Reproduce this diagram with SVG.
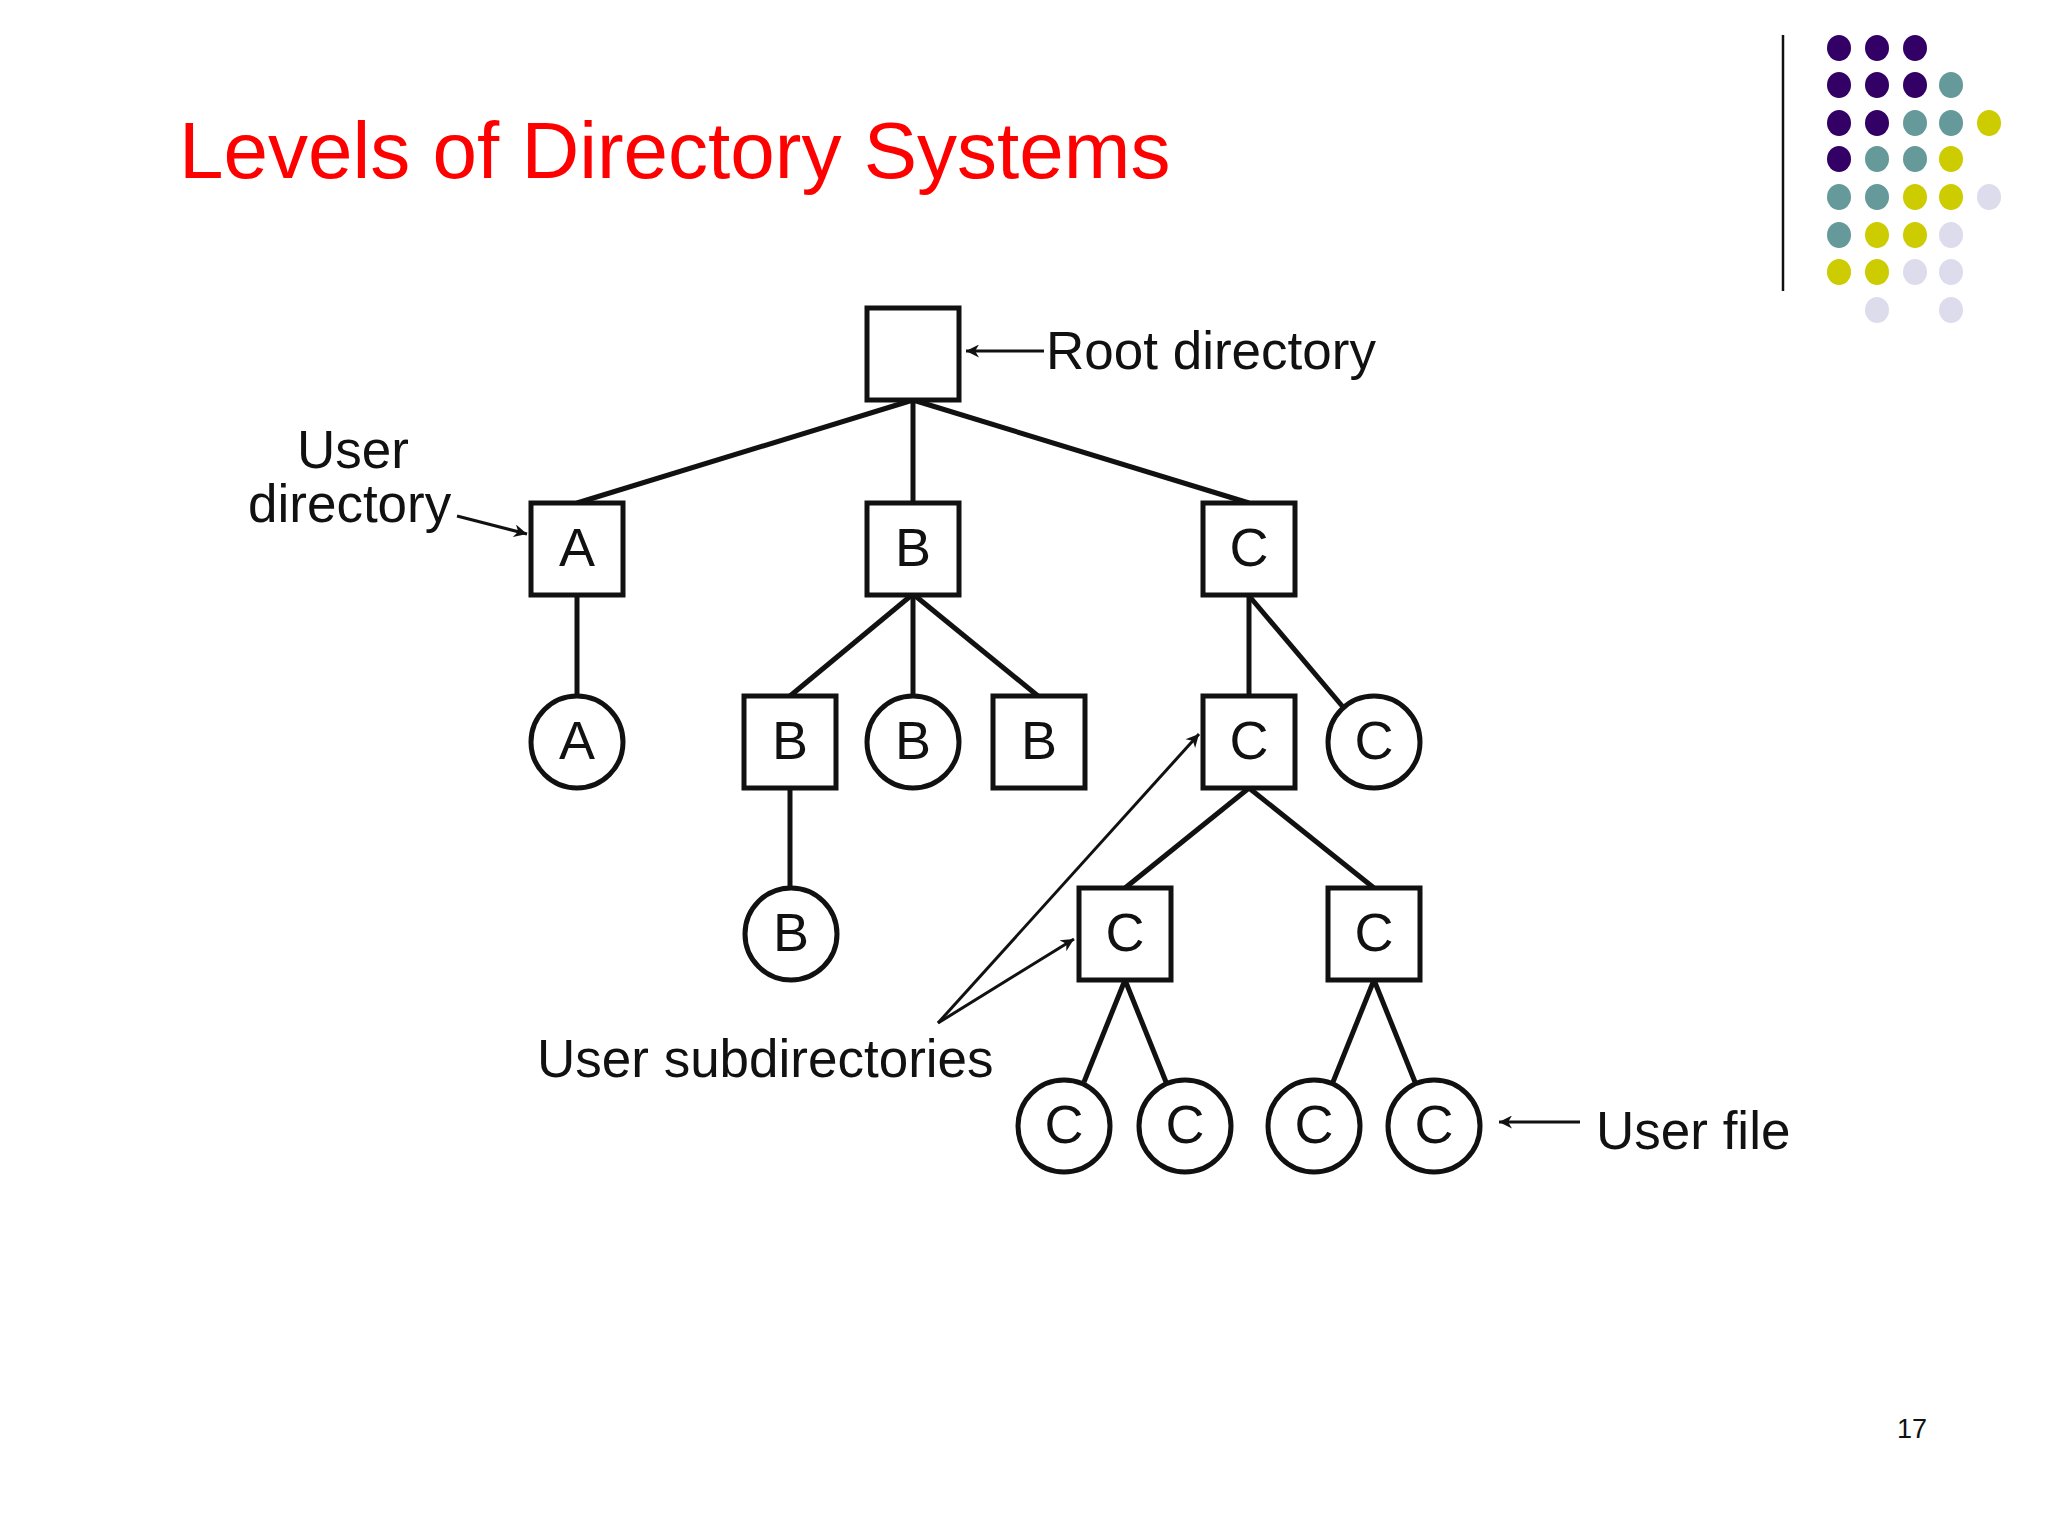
<svg xmlns="http://www.w3.org/2000/svg" width="2048" height="1536" viewBox="0 0 2048 1536">
<defs>
<style>
.n{fill:#fff;stroke:#111;stroke-width:5}
.t{font-family:"Liberation Sans",Arial,sans-serif;font-size:54px;fill:#111;text-anchor:middle}
.l{font-family:"Liberation Sans",Arial,sans-serif;font-size:53px;fill:#111}
.e{stroke:#111;stroke-width:5;fill:none}
.a{stroke:#111;stroke-width:3;fill:none;marker-end:url(#ah)}
.P{fill:#330066}.T{fill:#669999}.Y{fill:#cccc00}.L{fill:#dcdcec}
</style>
<marker id="ah" viewBox="0 0 10 10" refX="10" refY="5" markerWidth="24" markerHeight="13" markerUnits="userSpaceOnUse" orient="auto"><path d="M0,0 L10,5 L0,10 L3,5 Z" fill="#111"/></marker>
</defs>
<rect width="2048" height="1536" fill="#fff"/>
<text x="179" y="178" font-family="Liberation Sans,Arial,sans-serif" font-size="80" fill="#ff0000">Levels of Directory Systems</text>
<text x="1912" y="1438" font-family="Liberation Sans,Arial,sans-serif" font-size="27" fill="#111" text-anchor="middle">17</text>
<g id="decor">
<line x1="1783" y1="35" x2="1783" y2="291" stroke="#111" stroke-width="2.5"/>
<g>
<ellipse class="P" cx="1839" cy="48" rx="12" ry="13"/><ellipse class="P" cx="1877" cy="48" rx="12" ry="13"/><ellipse class="P" cx="1915" cy="48" rx="12" ry="13"/>
<ellipse class="P" cx="1839" cy="85" rx="12" ry="13"/><ellipse class="P" cx="1877" cy="85" rx="12" ry="13"/><ellipse class="P" cx="1915" cy="85" rx="12" ry="13"/><ellipse class="T" cx="1951" cy="85" rx="12" ry="13"/>
<ellipse class="P" cx="1839" cy="123" rx="12" ry="13"/><ellipse class="P" cx="1877" cy="123" rx="12" ry="13"/><ellipse class="T" cx="1915" cy="123" rx="12" ry="13"/><ellipse class="T" cx="1951" cy="123" rx="12" ry="13"/><ellipse class="Y" cx="1989" cy="123" rx="12" ry="13"/>
<ellipse class="P" cx="1839" cy="159" rx="12" ry="13"/><ellipse class="T" cx="1877" cy="159" rx="12" ry="13"/><ellipse class="T" cx="1915" cy="159" rx="12" ry="13"/><ellipse class="Y" cx="1951" cy="159" rx="12" ry="13"/>
<ellipse class="T" cx="1839" cy="197" rx="12" ry="13"/><ellipse class="T" cx="1877" cy="197" rx="12" ry="13"/><ellipse class="Y" cx="1915" cy="197" rx="12" ry="13"/><ellipse class="Y" cx="1951" cy="197" rx="12" ry="13"/><ellipse class="L" cx="1989" cy="197" rx="12" ry="13"/>
<ellipse class="T" cx="1839" cy="235" rx="12" ry="13"/><ellipse class="Y" cx="1877" cy="235" rx="12" ry="13"/><ellipse class="Y" cx="1915" cy="235" rx="12" ry="13"/><ellipse class="L" cx="1951" cy="235" rx="12" ry="13"/>
<ellipse class="Y" cx="1839" cy="272" rx="12" ry="13"/><ellipse class="Y" cx="1877" cy="272" rx="12" ry="13"/><ellipse class="L" cx="1915" cy="272" rx="12" ry="13"/><ellipse class="L" cx="1951" cy="272" rx="12" ry="13"/>
<ellipse class="L" cx="1877" cy="310" rx="12" ry="13"/><ellipse class="L" cx="1951" cy="310" rx="12" ry="13"/>
</g>
</g>
<g id="connectors">
<line class="e" x1="913" y1="400" x2="577" y2="503"/>
<line class="e" x1="913" y1="400" x2="913" y2="503"/>
<line class="e" x1="913" y1="400" x2="1249" y2="503"/>
<line class="e" x1="577" y1="594" x2="577" y2="696"/>
<line class="e" x1="913" y1="594" x2="790" y2="696"/>
<line class="e" x1="913" y1="594" x2="913" y2="696"/>
<line class="e" x1="913" y1="594" x2="1038" y2="696"/>
<line class="e" x1="790" y1="788" x2="790" y2="888"/>
<line class="e" x1="1249" y1="594" x2="1249" y2="696"/>
<line class="e" x1="1250" y1="597" x2="1343" y2="707"/>
<line class="e" x1="1249" y1="788" x2="1125" y2="888"/>
<line class="e" x1="1249" y1="788" x2="1374" y2="888"/>
<line class="e" x1="1125" y1="980" x2="1084" y2="1082"/>
<line class="e" x1="1125" y1="980" x2="1166" y2="1082"/>
<line class="e" x1="1374" y1="980" x2="1333" y2="1082"/>
<line class="e" x1="1374" y1="980" x2="1415" y2="1082"/>
<line class="a" x1="1044" y1="351" x2="966" y2="351"/>
<line class="a" x1="457" y1="516" x2="527" y2="534"/>
<line class="a" x1="938" y1="1023" x2="1199" y2="734"/>
<line class="a" x1="938" y1="1023" x2="1074" y2="939"/>
<line class="a" x1="1580" y1="1122" x2="1499" y2="1122"/>
</g>
<g id="root"><rect class="n" x="867" y="308" width="92" height="92"/></g>
<g id="dirA"><rect class="n" x="531" y="503" width="92" height="92"/><text class="t" x="577" y="566">A</text></g>
<g id="dirB"><rect class="n" x="867" y="503" width="92" height="92"/><text class="t" x="913" y="566">B</text></g>
<g id="dirC"><rect class="n" x="1203" y="503" width="92" height="92"/><text class="t" x="1249" y="566">C</text></g>
<g id="fileA"><circle class="n" cx="577" cy="742" r="46"/><text class="t" x="577" y="759">A</text></g>
<g id="dirB1"><rect class="n" x="744" y="696" width="92" height="92"/><text class="t" x="790" y="759">B</text></g>
<g id="fileB1"><circle class="n" cx="913" cy="742" r="46"/><text class="t" x="913" y="759">B</text></g>
<g id="dirB2"><rect class="n" x="993" y="696" width="92" height="92"/><text class="t" x="1039" y="759">B</text></g>
<g id="dirC1"><rect class="n" x="1203" y="696" width="92" height="92"/><text class="t" x="1249" y="759">C</text></g>
<g id="fileC1"><circle class="n" cx="1374" cy="742" r="46"/><text class="t" x="1374" y="759">C</text></g>
<g id="fileB2"><circle class="n" cx="791" cy="934" r="46"/><text class="t" x="791" y="951">B</text></g>
<g id="dirC2"><rect class="n" x="1079" y="888" width="92" height="92"/><text class="t" x="1125" y="951">C</text></g>
<g id="dirC3"><rect class="n" x="1328" y="888" width="92" height="92"/><text class="t" x="1374" y="951">C</text></g>
<g id="fileC2"><circle class="n" cx="1064" cy="1126" r="46"/><text class="t" x="1064" y="1143">C</text></g>
<g id="fileC3"><circle class="n" cx="1185" cy="1126" r="46"/><text class="t" x="1185" y="1143">C</text></g>
<g id="fileC4"><circle class="n" cx="1314" cy="1126" r="46"/><text class="t" x="1314" y="1143">C</text></g>
<g id="fileC5"><circle class="n" cx="1434" cy="1126" r="46"/><text class="t" x="1434" y="1143">C</text></g>
<g id="labels">
<text class="l" x="1046" y="369">Root directory</text>
<text class="l" x="353" y="468" text-anchor="middle">User</text>
<text class="l" x="248" y="522">directory</text>
<text class="l" x="537" y="1077">User subdirectories</text>
<text class="l" x="1596" y="1149">User file</text>
</g>
</svg>
